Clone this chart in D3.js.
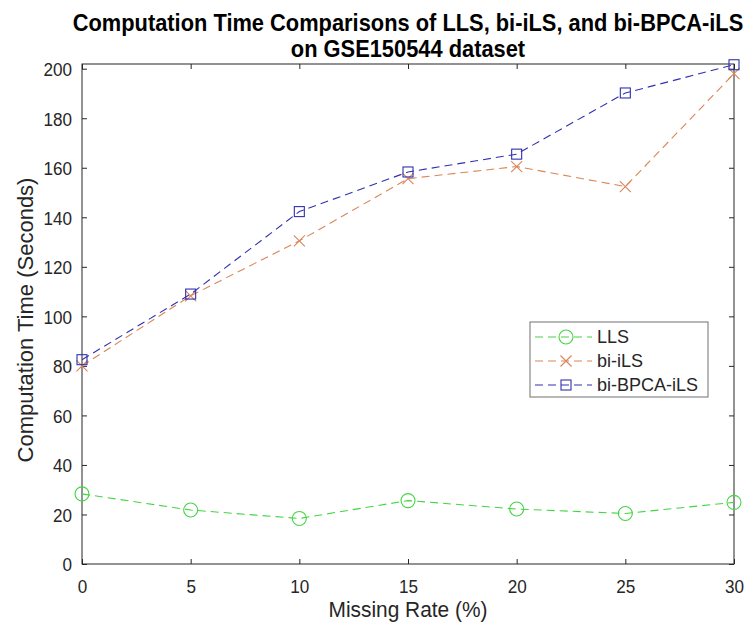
<!DOCTYPE html>
<html><head><meta charset="utf-8">
<script src="https://cdn.jsdelivr.net/npm/d3@7"></script>
<style>body{margin:0;background:#fff;} text{font-family:"Liberation Sans",Arial,Helvetica,sans-serif;}</style>
</head><body>
<svg id="c" width="748" height="628"></svg>
<script>
const missingRates = [0, 5, 10, 15, 20, 25, 30];
const llsTimes = [28.3, 21.8, 18.4, 25.6, 22.2, 20.4, 24.9];
const biILSTimes = [80.0, 108.3, 130.5, 155.6, 160.5, 152.4, 198.0];
const biBPCATimes = [82.5, 109.0, 142.3, 158.3, 165.5, 190.2, 201.6];
const xTicks = [0, 5, 10, 15, 20, 25, 30];
const yTicks = [0, 20, 40, 60, 80, 100, 120, 140, 160, 180, 200];
const seriesNames = ["LLS", "bi-iLS", "bi-BPCA-iLS"];

const svg = d3.select("#c");
const L = 82, R = 734, T = 64, B = 564;
const x = d3.scaleLinear().domain([0, 30]).range([L, R]);
const y = d3.scaleLinear().domain([0, 201.9]).range([B, T]);
const axisColor = "#262626";

svg.append("rect").attr("x", 0).attr("y", 0).attr("width", 748).attr("height", 628).attr("fill", "#fff");

// axes
const fs = 19, kx = 0.9;
const gx = svg.append("g").attr("transform", `translate(0,${B})`)
  .call(d3.axisBottom(x).tickValues(xTicks).tickSize(-5).tickFormat(d3.format("d")));
const gxt = svg.append("g").attr("transform", `translate(0,${T})`)
  .call(d3.axisTop(x).tickValues(xTicks).tickSize(-5).tickFormat(""));
const gy = svg.append("g").attr("transform", `translate(${L},0)`)
  .call(d3.axisLeft(y).tickValues(yTicks).tickSize(-5).tickFormat(d3.format("d")));
const gyr = svg.append("g").attr("transform", `translate(${R},0)`)
  .call(d3.axisRight(y).tickValues(yTicks).tickSize(-5).tickFormat(""));
[gx, gxt, gy, gyr].forEach(g => {
  g.select(".domain").remove();
  g.selectAll("line").attr("stroke", axisColor);
  g.selectAll("text").attr("fill", axisColor).style("font-size", fs + "px")
    .attr("transform", `scale(${kx},1)`);
});
gx.selectAll("text").attr("y", 29).attr("dy", null);
gy.selectAll("text").attr("x", -11.1).attr("dy", "0.36em");
svg.append("rect").attr("x", L).attr("y", T).attr("width", R - L).attr("height", B - T)
  .attr("fill", "none").attr("stroke", axisColor).attr("stroke-width", 1);

// series
const series = [
  {name: seriesNames[0], vals: llsTimes, color: "#44d444", marker: "circle"},
  {name: seriesNames[1], vals: biILSTimes, color: "#d98558", marker: "x"},
  {name: seriesNames[2], vals: biBPCATimes, color: "#3030b0", marker: "square"}
];
const line = d3.line().x(d => x(d[0])).y(d => y(d[1]));
function drawMarker(g, type, cx, cy, color) {
  if (type === "circle") {
    g.append("circle").attr("cx", cx).attr("cy", cy).attr("r", 7)
      .attr("fill", "none").attr("stroke", color).attr("stroke-width", 1.1);
  } else if (type === "square") {
    g.append("rect").attr("x", cx - 5).attr("y", cy - 5).attr("width", 10).attr("height", 10)
      .attr("fill", "none").attr("stroke", color).attr("stroke-width", 1.1);
  } else {
    const s = 5.5;
    g.append("path").attr("d", `M${cx - s},${cy - s}L${cx + s},${cy + s}M${cx - s},${cy + s}L${cx + s},${cy - s}`)
      .attr("stroke", color).attr("stroke-width", 1.1).attr("fill", "none");
  }
}
series.forEach(s => {
  const pts = missingRates.map((m, i) => [m, s.vals[i]]);
  svg.append("path").datum(pts).attr("d", line).attr("fill", "none")
    .attr("stroke", s.color).attr("stroke-width", 1.1).attr("stroke-dasharray", "8,5");
  const g = svg.append("g");
  pts.forEach(p => drawMarker(g, s.marker, x(p[0]), y(p[1]), s.color));
});

// legend
const lg = svg.append("g");
lg.append("rect").attr("x", 530).attr("y", 322).attr("width", 178).attr("height", 75)
  .attr("fill", "#fff").attr("stroke", "#707070").attr("stroke-width", 1);
series.forEach((s, i) => {
  const ly = 337 + i * 24;
  lg.append("line").attr("x1", 535).attr("x2", 592).attr("y1", ly).attr("y2", ly)
    .attr("stroke", s.color).attr("stroke-width", 1.1).attr("stroke-dasharray", "8,5");
  drawMarker(lg, s.marker, 566, ly, s.color);
  lg.append("text").attr("x", 597).attr("y", ly).attr("dy", "0.36em").attr("fill", axisColor)
    .style("font-size", "18px").text(s.name);
});

// titles
svg.append("text").attr("transform", "translate(408,31) scale(0.95,1)").attr("text-anchor", "middle")
  .style("font-size", "23px").style("font-weight", "bold").attr("fill", "#000")
  .text("Computation Time Comparisons of LLS, bi-iLS, and bi-BPCA-iLS");
svg.append("text").attr("transform", "translate(408,57) scale(0.95,1)").attr("text-anchor", "middle")
  .style("font-size", "23px").style("font-weight", "bold").attr("fill", "#000")
  .text("on GSE150544 dataset");
svg.append("text").attr("transform", "translate(408,617) scale(0.95,1)").attr("text-anchor", "middle")
  .style("font-size", "22px").attr("fill", axisColor).text("Missing Rate (%)");
svg.append("text").attr("transform", "translate(33,320) rotate(-90)").attr("text-anchor", "middle")
  .style("font-size", "22px").attr("fill", axisColor).text("Computation Time (Seconds)");
</script>
</body></html>
